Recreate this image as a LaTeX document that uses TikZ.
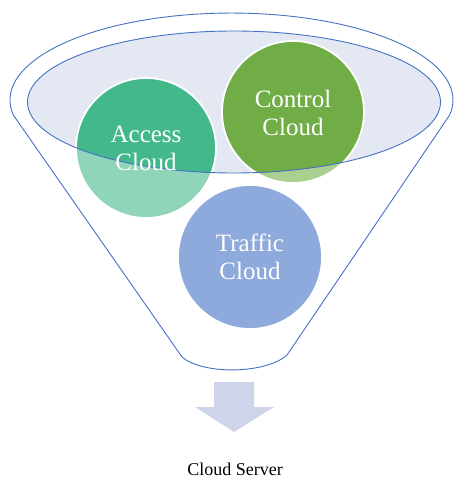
\documentclass[tikz,border=0pt]{standalone}
\usepackage{fontspec}
\setmainfont{Liberation Serif}
\definecolor{funnelblue}{HTML}{4472C4}
\definecolor{lav}{HTML}{E4E8F3}
\definecolor{accessdark}{HTML}{43B98B}
\definecolor{accesslight}{HTML}{8FD5B9}
\definecolor{ctrldark}{HTML}{70AD47}
\definecolor{ctrllight}{HTML}{A9D08E}
\definecolor{traffic}{HTML}{8EA9DB}
\definecolor{arrowcol}{HTML}{CED4EA}
\begin{document}
\begin{tikzpicture}[x=1pt,y=-1pt,
  outline/.style={draw=funnelblue,line width=0.9pt},
  ring/.style={draw=white,line width=1.8pt},
  label/.style={text=white,font=\fontsize{25}{28}\selectfont,align=center,inner sep=0pt}]
\useasboundingbox (0,0) rectangle (454,478);
% outer funnel
\draw[outline] (13.3,115) arc[start angle=170.1,end angle=369.9,x radius=221.5,y radius=87]
  -- (287,355) .. controls (266,374) and (203,375) .. (182,357) -- cycle;
% inner ellipse fill
\fill[lav] (234,102) ellipse[x radius=206.5,y radius=71];
% circles, light parts
\fill[accesslight] (146,148) circle[radius=70];
\fill[ctrllight] (293,112) circle[radius=71];
\fill[traffic] (250,257) circle[radius=72];
% dark parts inside the ellipse
\begin{scope}
  \clip (234,102) ellipse[x radius=206.5,y radius=71];
  \fill[accessdark] (146,148) circle[radius=70];
  \fill[ctrldark] (293,112) circle[radius=71];
\end{scope}
\draw[ring] (146,148) circle[radius=70];
\draw[ring] (293,112) circle[radius=71];
\draw[ring] (250,257) circle[radius=72];
% ellipse outline on top
\draw[outline] (234,102) ellipse[x radius=206.5,y radius=71];
% labels
\node[label] (access) at (146,148) {Access\\Cloud};
\node[label] (control) at (293,113) {Control\\Cloud};
\node[label] (traffic) at (250,257) {Traffic\\Cloud};
% arrow
\fill[arrowcol] (214,382) -- (254,382) -- (254,407) -- (274,407) -- (234,432) -- (195,407) -- (214,407) -- cycle;
\node[font=\fontsize{18}{22}\selectfont,inner sep=0pt] (server) at (235,469) {Cloud Server};
\end{tikzpicture}
\end{document}
